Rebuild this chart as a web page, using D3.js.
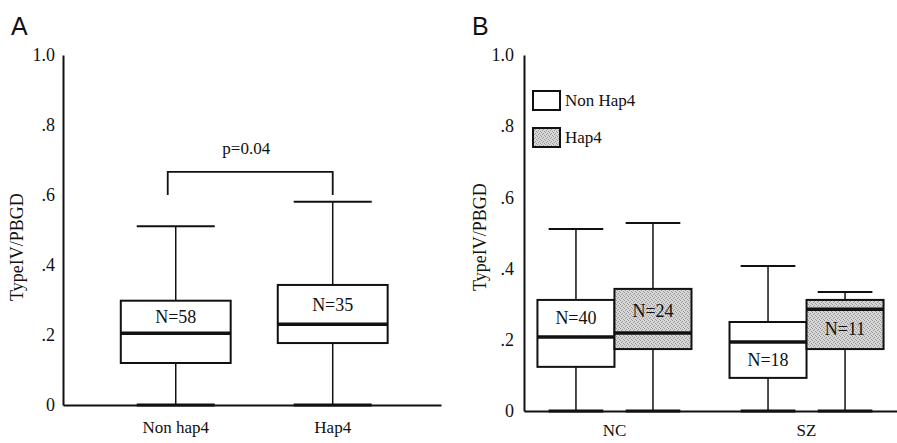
<!DOCTYPE html>
<html>
<head>
<meta charset="utf-8">
<script src="https://cdnjs.cloudflare.com/ajax/libs/d3/7.8.5/d3.min.js"></script>
<style>
  body { margin: 0; background: #fff; }
  text { font-family: 'Liberation Serif', 'Times New Roman', serif; fill: #111; }
</style>
</head>
<body>
<script>
// panel A
const groupsA = ['Non hap4', 'Hap4'];
const lowA = [0, 0];
const q1A = [0.12, 0.177];
const medA = [0.205, 0.231];
const q3A = [0.298, 0.343];
const highA = [0.511, 0.581];
const nA = [58, 35];
const pText = 'p=0.04';

// panel B, rows = series, columns = groups
const groupsB = ['NC', 'SZ'];
const seriesB = ['Non Hap4', 'Hap4'];
const lowB = [[0, 0], [0, 0]];
const q1B = [[0.124, 0.093], [0.174, 0.174]];
const medB = [[0.208, 0.194], [0.219, 0.286]];
const q3B = [[0.312, 0.25], [0.343, 0.312]];
const highB = [[0.511, 0.407], [0.528, 0.334]];
const nB = [[40, 18], [24, 11]];

const yTicks = [0, 0.2, 0.4, 0.6, 0.8, 1.0];
const yTitle = 'TypeIV/PBGD';

const W = 897, H = 443;
const svg = d3.select('body').append('svg')
  .attr('width', W).attr('height', H);

// stipple pattern for Hap4 boxes
const pat = svg.append('defs').append('pattern')
  .attr('id', 'stipple').attr('patternUnits', 'userSpaceOnUse')
  .attr('width', 4).attr('height', 4);
pat.append('rect').attr('width', 4).attr('height', 4).attr('fill', '#d6d6d6');
[[0, 0], [2, 1], [1, 2], [3, 3]].forEach(p => {
  pat.append('rect').attr('x', p[0]).attr('y', p[1])
    .attr('width', 1).attr('height', 1).attr('fill', '#9a9a9a');
});
const fills = ['#fff', 'url(#stipple)'];

const fmt = d => d === 0 ? '0' : d === 1 ? '1.0' : d3.format('.1f')(d).replace(/^0/, '');

function drawY(y, x0, pad) {
  const ax = svg.append('g')
    .attr('transform', 'translate(' + x0 + ',0)')
    .call(d3.axisLeft(y).tickValues(yTicks).tickFormat(fmt).tickSize(0).tickPadding(pad).tickSizeOuter(0));
  ax.select('.domain').attr('stroke', '#111').attr('stroke-width', 2);
  ax.selectAll('text').attr('font-size', 18).attr('font-family', "'Liberation Serif', serif");
}

function drawX(x, y0, pad) {
  const ax = svg.append('g')
    .attr('transform', 'translate(0,' + y0 + ')')
    .call(d3.axisBottom(x).tickSize(0).tickPadding(pad).tickSizeOuter(0));
  ax.select('.domain').attr('stroke', '#111').attr('stroke-width', 2);
  ax.selectAll('text').attr('font-size', 17).attr('font-family', "'Liberation Serif', serif");
}

function drawBox(g, y, cx, w, s, fill) {
  const capW = w * 0.71;
  // whiskers
  g.append('line').attr('x1', cx).attr('x2', cx)
    .attr('y1', y(s.low)).attr('y2', y(s.high))
    .attr('stroke', '#111').attr('stroke-width', 1.5);
  [s.low, s.high].forEach(v => {
    g.append('line').attr('x1', cx - capW / 2).attr('x2', cx + capW / 2)
      .attr('y1', y(v)).attr('y2', y(v))
      .attr('stroke', '#111').attr('stroke-width', v === 0 ? 3 : 2);
  });
  g.append('rect')
    .attr('x', cx - w / 2).attr('width', w)
    .attr('y', y(s.q3)).attr('height', y(s.q1) - y(s.q3))
    .attr('fill', fill).attr('stroke', '#111').attr('stroke-width', 2);
  g.append('line').attr('x1', cx - w / 2).attr('x2', cx + w / 2)
    .attr('y1', y(s.med)).attr('y2', y(s.med))
    .attr('stroke', '#111').attr('stroke-width', 3.5);
  // N label in the larger half of the box
  const upper = s.q3 - s.med, lower = s.med - s.q1;
  const ly = upper >= lower ? (y(s.med) + y(s.q3)) / 2 : (y(s.med) + y(s.q1)) / 2;
  g.append('text').attr('x', cx).attr('y', ly)
    .attr('text-anchor', 'middle').attr('dominant-baseline', 'central')
    .attr('font-size', 18).text('N=' + s.n);
}

// ---------- Panel A ----------
const yA = d3.scaleLinear().domain([0, 1]).range([405, 55]);
const xA = d3.scaleBand().domain(groupsA).range([63, 441])
  .paddingInner(0.3).paddingOuter(0.354).align(0.52);

const gA = svg.append('g');
groupsA.forEach((g, i) => {
  drawBox(gA, yA, xA(g) + xA.bandwidth() / 2, xA.bandwidth(),
    { low: lowA[i], q1: q1A[i], med: medA[i], q3: q3A[i], high: highA[i], n: nA[i] }, '#fff');
});
drawY(yA, 63, 8);
drawX(xA, 405, 16);

// significance bracket
const bx1 = xA(groupsA[0]) + xA.bandwidth() / 2 - 8;
const bx2 = xA(groupsA[1]) + xA.bandwidth() / 2;
const bTop = yA(0.666), bLeg = yA(0.6);
svg.append('path')
  .attr('d', 'M' + bx1 + ',' + bLeg + 'V' + bTop + 'H' + bx2 + 'V' + bLeg)
  .attr('fill', 'none').attr('stroke', '#111').attr('stroke-width', 1.8);
svg.append('text').attr('x', (bx1 + bx2) / 2 - 4).attr('y', yA(0.732))
  .attr('text-anchor', 'middle').attr('dominant-baseline', 'central')
  .attr('font-size', 17).text(pText);

svg.append('text').attr('x', 17).attr('y', 247)
  .attr('transform', 'rotate(-90,17,247)')
  .attr('text-anchor', 'middle').attr('dominant-baseline', 'central')
  .attr('font-size', 18).text(yTitle);

svg.append('text').attr('x', 11).attr('y', 35)
  .style('font-family', "'Liberation Sans', Arial, sans-serif")
  .attr('font-size', 25).text('A');

// ---------- Panel B ----------
const yB = d3.scaleLinear().domain([0, 1]).range([411, 55]);
const xB = d3.scaleBand().domain(groupsB).range([524, 897])
  .paddingInner(0.198).paddingOuter(0.07);
const xSub = d3.scaleBand().domain(seriesB).range([0, xB.bandwidth()]);

const gB = svg.append('g');
seriesB.forEach((s, si) => {
  groupsB.forEach((g, gi) => {
    const cx = xB(g) + xSub(s) + xSub.bandwidth() / 2;
    drawBox(gB, yB, cx, xSub.bandwidth(),
      { low: lowB[si][gi], q1: q1B[si][gi], med: medB[si][gi], q3: q3B[si][gi], high: highB[si][gi], n: nB[si][gi] },
      fills[si]);
  });
});
drawY(yB, 524, 10);
drawX(xB, 411, 13);

svg.append('text').attr('x', 480).attr('y', 237)
  .attr('transform', 'rotate(-90,480,237)')
  .attr('text-anchor', 'middle').attr('dominant-baseline', 'central')
  .attr('font-size', 18).text(yTitle);

svg.append('text').attr('x', 472).attr('y', 35)
  .style('font-family', "'Liberation Sans', Arial, sans-serif")
  .attr('font-size', 25).text('B');

// legend
const leg = svg.append('g').attr('transform', 'translate(533,91)');
seriesB.forEach((s, i) => {
  const row = leg.append('g').attr('transform', 'translate(0,' + (i * 37) + ')');
  row.append('rect').attr('width', 27).attr('height', 19)
    .attr('fill', fills[i]).attr('stroke', '#111').attr('stroke-width', 2);
  row.append('text').attr('x', 32).attr('y', 9.5)
    .attr('dominant-baseline', 'central').attr('font-size', 17).text(s);
});
</script>
</body>
</html>
